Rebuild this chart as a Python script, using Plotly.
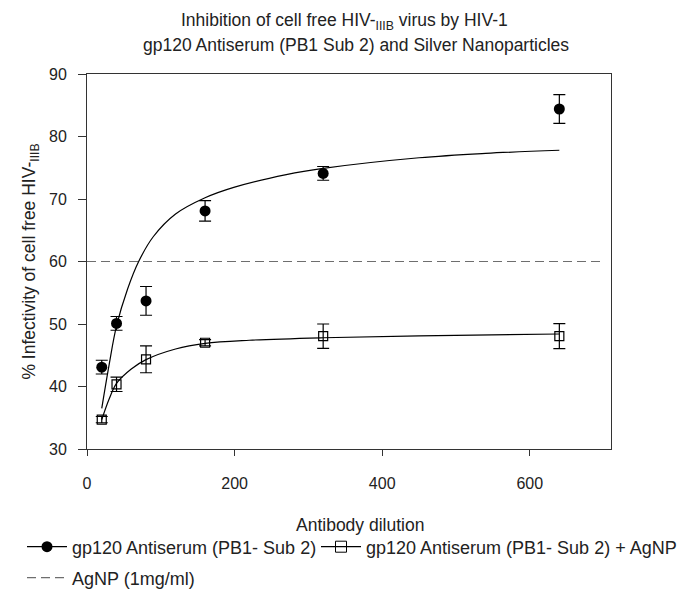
import plotly.graph_objects as go

# measured points
dilution = [20, 40, 80, 160, 320, 640]
antiserum = [43.1, 50.1, 53.7, 68.1, 74.1, 84.4]
antiserum_err = [1.1, 1.1, 2.3, 1.65, 1.1, 2.3]
antiserum_agnp = [34.7, 40.35, 44.35, 47.0, 48.05, 48.05]
antiserum_agnp_err = [0.5, 1.15, 2.15, 0.5, 1.95, 2.0]

# fitted curves
fit_x = [20, 30, 40, 55, 70, 90, 120, 160, 200, 270, 320, 450, 540, 640]
fit_antiserum = [36.5, 43.5, 49.7, 55.6, 60.0, 64.0, 67.6, 70.2, 71.9, 73.9, 74.9, 76.6, 77.3, 77.8]
fit_agnp_x = [20, 30, 40, 60, 80, 120, 160, 220, 320, 450, 640]
fit_agnp = [34.7, 38.0, 40.5, 42.8, 44.3, 46.0, 46.9, 47.4, 47.8, 48.1, 48.4]

agnp_x = [0, 700]
agnp_level = [60, 60]

black = "#000000"
text_col = "#222222"
font = "Liberation Sans, Arial, sans-serif"
W, H = 685, 598
ML, MR, MT, MB = 87, 74, 74, 149

fig = go.Figure()

fig.add_trace(go.Scatter(
    x=agnp_x, y=agnp_level, mode="lines",
    line=dict(color="#6e6e6e", width=1.2, dash="9px,5px"),
    name="AgNP (1mg/ml)", legend="legend3"))

fig.add_trace(go.Scatter(
    x=fit_x, y=fit_antiserum, mode="lines", line=dict(color=black, width=1.2, shape="spline"),
    showlegend=False, hoverinfo="skip"))
fig.add_trace(go.Scatter(
    x=fit_agnp_x, y=fit_agnp, mode="lines", line=dict(color=black, width=1.2, shape="spline"),
    showlegend=False, hoverinfo="skip"))

fig.add_trace(go.Scatter(
    x=dilution, y=antiserum, mode="markers",
    marker=dict(symbol="circle", size=11, color=black),
    error_y=dict(type="data", array=antiserum_err, color=black, thickness=1.2, width=6),
    showlegend=False))
fig.add_trace(go.Scatter(
    x=dilution, y=antiserum_agnp, mode="markers",
    marker=dict(symbol="square-open", size=9, color=black, line=dict(width=1.2)),
    error_y=dict(type="data", array=antiserum_agnp_err, color=black, thickness=1.2, width=6),
    showlegend=False))

# legend entries (line + marker)
fig.add_trace(go.Scatter(
    x=[None], y=[None], mode="lines+markers",
    line=dict(color=black, width=1.2), marker=dict(symbol="circle", size=11, color=black),
    name="gp120 Antiserum (PB1- Sub 2)", legend="legend"))
fig.add_trace(go.Scatter(
    x=[None], y=[None], mode="lines+markers",
    line=dict(color=black, width=1.2), marker=dict(symbol="square-open", size=11, color=black),
    name="gp120 Antiserum (PB1- Sub 2) + AgNP", legend="legend2"))

axis_common = dict(showline=True, linecolor="#333333", linewidth=1, mirror=True,
                   ticks="outside", tickcolor="#333333", showgrid=False,
                   zeroline=False, automargin=False,
                   tickfont=dict(size=16, color=text_col, family=font))

legend_common = dict(orientation="h", xref="container", yref="container",
                     xanchor="left", yanchor="middle", traceorder="normal",
                     font=dict(size=18, color=text_col, family=font),
                     itemwidth=40, bgcolor="rgba(0,0,0,0)", borderwidth=0)

text_font = dict(size=17.5, color=text_col, family=font)

fig.update_layout(
    width=W, height=H,
    paper_bgcolor="white", plot_bgcolor="white",
    margin=dict(l=ML, r=MR, t=MT, b=MB),
    xaxis=dict(range=[0, 710], tickvals=[0, 200, 400, 600], ticklen=6, ticklabelstandoff=14,
               **axis_common),
    yaxis=dict(range=[30, 90], tickvals=[30, 40, 50, 60, 70, 80, 90], ticklen=8,
               ticklabelstandoff=8,
               title=dict(text="% Infectivity of cell free HIV-<sub>IIIB</sub>",
                          font=text_font, standoff=8),
               **axis_common),
    legend=dict(x=22 / W, y=1 - 547 / H, **legend_common),
    legend2=dict(x=316 / W, y=1 - 547 / H, **legend_common),
    legend3=dict(x=22 / W, y=1 - 578 / H, **legend_common),
    showlegend=True,
)

# title lines and x title, placed at figure pixel positions
pw, ph = W - ML - MR, H - MT - MB
texts = [
    ("Inhibition of cell free HIV-<sub>IIIB</sub> virus by HIV-1", 344, 22),
    ("gp120 Antiserum (PB1 Sub 2) and Silver Nanoparticles", 356, 45),
    ("Antibody dilution", 360, 525),
]
for txt, px, py in texts:
    fig.add_annotation(text=txt, x=(px - ML) / pw, y=1 - (py - MT) / ph,
                       xref="x domain", yref="y domain", showarrow=False,
                       xanchor="center", yanchor="middle", font=text_font)

fig.write_html("out.html", config={"displayModeBar": False},
               post_script="document.body.style.margin='0px';")
